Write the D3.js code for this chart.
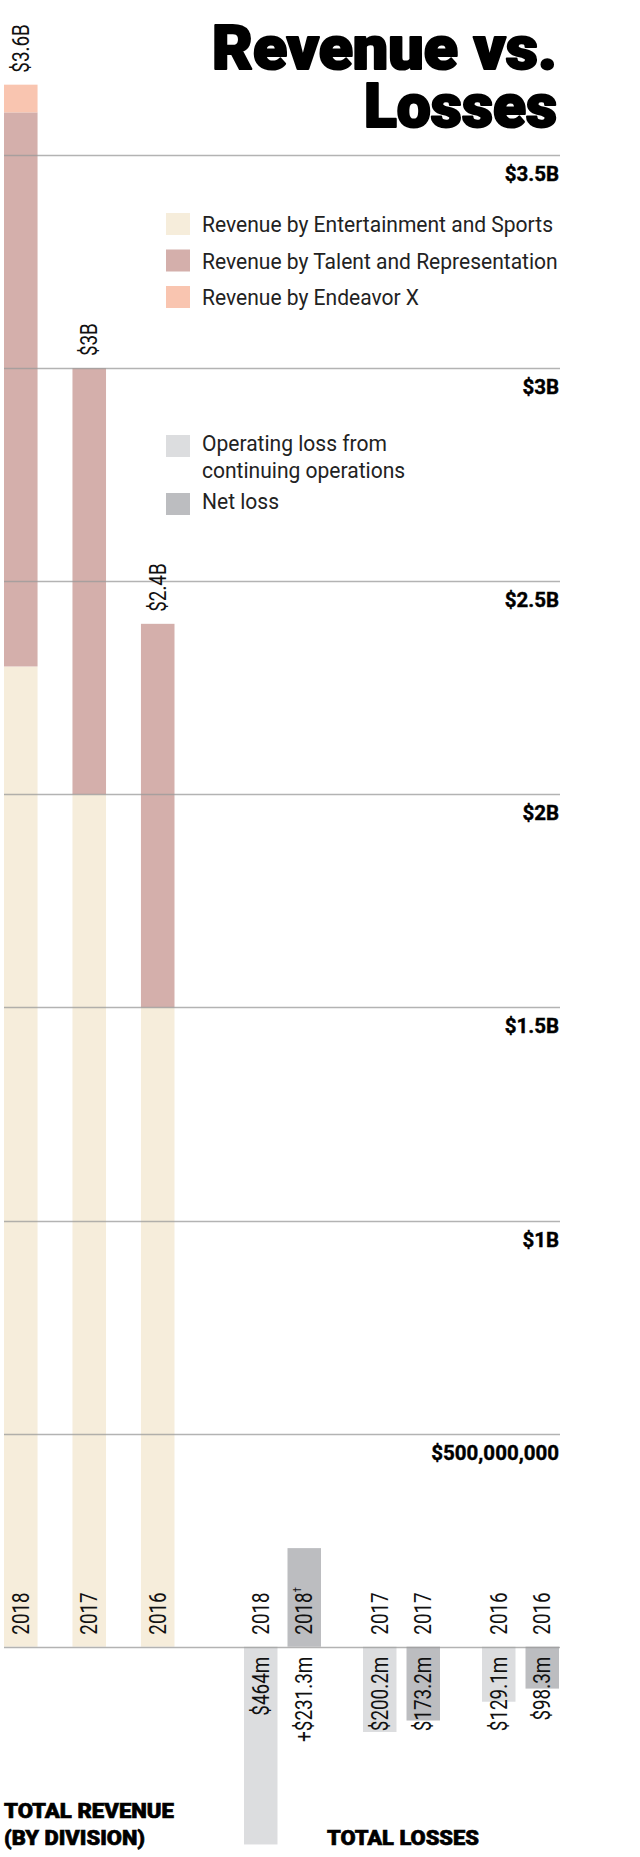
<!DOCTYPE html>
<html>
<head>
<meta charset="utf-8">
<script src="https://cdn.jsdelivr.net/npm/d3@7"></script>
<style>
  html, body { margin: 0; padding: 0; background: #fff; }
  svg { display: block; }
  text { font-family: Roboto, "Liberation Sans", "DejaVu Sans", sans-serif; fill: #111; }
</style>
</head>
<body>
<svg id="chart" width="640" height="1857"></svg>
<script>
// ---------- DATA ----------
const years = ["2018", "2017", "2016"];
const revEntertainmentSports = [2.30, 2.00, 1.50];   // $B
const revTalentRepresentation = [1.30, 1.00, 0.90];  // $B
const revEndeavorX = [0.065, 0, 0];                  // $B
const revTotalLabels = ["$3.6B", "$3B", "$2.4B"];

const lossYears = ["2018", "2017", "2016"];
const operatingLoss = [-464.0, -200.2, -129.1];      // $M (negative = loss)
const netLoss = [231.3, -173.2, -98.3];              // $M (2018 is positive)
const operatingLabels = ["$464m", "$200.2m", "$129.1m"];
const netLabels = ["+$231.3m", "$173.2m", "$98.3m"];
const netYearMarks = ["\u2020", "", ""];

const tickValues = [0.5, 1, 1.5, 2, 2.5, 3, 3.5];
const tickLabels = ["$500,000,000", "$1B", "$1.5B", "$2B", "$2.5B", "$3B", "$3.5B"];

const revenueSeries = ["Revenue by Entertainment and Sports", "Revenue by Talent and Representation", "Revenue by Endeavor X"];
const lossSeries = [["Operating loss from", "continuing operations"], ["Net loss"]];
const titleLines = ["Revenue vs.", "Losses"];
const sectionTitles = [["TOTAL REVENUE", "(BY DIVISION)"], ["TOTAL LOSSES"]];

// ---------- STYLE ----------
const colors = {
  es: "#f6eddb",
  tr: "#d4afab",
  ex: "#f9c5b0",
  op: "#dcdddf",
  net: "#bcbdc0",
  grid: "#9a9a9a"
};

const svg = d3.select("#chart");
const W = 640, H = 1857;
svg.append("rect").attr("width", W).attr("height", H).attr("fill", "#fff");

const y = d3.scaleLinear().domain([0, 3.5]).range([1646.7, 155]);
const gridX0 = 4, gridX1 = 560;

const xRev = d3.scaleBand().domain(years).range([4, 174.5]).paddingInner(0.51).paddingOuter(0);
const xLossGroup = d3.scaleBand().domain(lossYears).range([244, 559]).paddingInner(0.353).paddingOuter(0);
const xLossInner = d3.scaleBand().domain(["op", "net"]).range([0, xLossGroup.bandwidth()]).paddingInner(0.23).paddingOuter(0);

// ---------- REVENUE STACK ----------
const revRows = years.map((yr, i) => ({
  year: yr,
  es: revEntertainmentSports[i],
  tr: revTalentRepresentation[i],
  ex: revEndeavorX[i]
}));
const stacked = d3.stack().keys(["es", "tr", "ex"])(revRows);

const gBars = svg.append("g");
stacked.forEach(layer => {
  gBars.selectAll(null)
    .data(layer.filter(d => d[1] - d[0] > 0))
    .enter().append("rect")
    .attr("x", d => xRev(d.data.year))
    .attr("width", xRev.bandwidth())
    .attr("y", d => y(d[1]))
    .attr("height", d => y(d[0]) - y(d[1]))
    .attr("fill", colors[layer.key]);
});

// ---------- LOSS BARS ----------
const lossRows = [];
lossYears.forEach((yr, i) => {
  lossRows.push({ year: yr, type: "op", v: operatingLoss[i] / 1000, label: operatingLabels[i], mark: "" });
  lossRows.push({ year: yr, type: "net", v: netLoss[i] / 1000, label: netLabels[i], mark: netYearMarks[i] });
});
const lx = d => xLossGroup(d.year) + xLossInner(d.type);
gBars.selectAll(null).data(lossRows).enter().append("rect")
  .attr("x", lx)
  .attr("width", xLossInner.bandwidth())
  .attr("y", d => d.v >= 0 ? y(d.v) : y(0))
  .attr("height", d => Math.abs(y(d.v) - y(0)))
  .attr("fill", d => d.type === "op" ? colors.op : colors.net);

// ---------- GRID ----------
const gGrid = svg.append("g");
gGrid.selectAll("line").data([0].concat(tickValues)).enter().append("line")
  .attr("x1", gridX0).attr("x2", gridX1)
  .attr("y1", d => Math.round(y(d)) + 0.5).attr("y2", d => Math.round(y(d)) + 0.5)
  .attr("stroke", colors.grid).attr("stroke-opacity", 0.75).attr("stroke-width", 1.5);

gGrid.selectAll("text").data(tickValues).enter().append("text")
  .attr("x", 559).attr("y", d => y(d) + 26)
  .attr("text-anchor", "end")
  .attr("font-size", 20.5).attr("font-weight", 700)
  .style("fill", "#000").style("stroke", "#000").style("stroke-width", 0.4)
  .text((d, i) => tickLabels[i]);

function condense(sel, factor) {
  sel.each(function () {
    const len = this.getComputedTextLength();
    d3.select(this).attr("textLength", len * factor).attr("lengthAdjust", "spacingAndGlyphs");
  });
}
const LABEL_FS = 23, LABEL_K = 0.82;

// ---------- REVENUE LABELS ----------
const gLab = svg.append("g");
const revTotals = revRows.map(r => r.es + r.tr + r.ex);
const revTop = gLab.selectAll(null).data(years).enter().append("text")
  .attr("transform", (d, i) => `translate(${xRev(d) + xRev.bandwidth() / 2 + 8},${y(revTotals[i]) - 12}) rotate(-90)`)
  .attr("font-size", LABEL_FS)
  .text((d, i) => revTotalLabels[i]);
condense(revTop, LABEL_K);

const revYear = gLab.selectAll(null).data(years).enter().append("text")
  .attr("transform", d => `translate(${xRev(d) + xRev.bandwidth() / 2 + 8},${y(0) - 12}) rotate(-90)`)
  .attr("font-size", LABEL_FS)
  .text(d => d);
condense(revYear, LABEL_K);

// ---------- LOSS LABELS ----------
const lossYearText = gLab.selectAll(null).data(lossRows).enter().append("text")
  .attr("transform", d => `translate(${lx(d) + xLossInner.bandwidth() / 2 + 8},${y(0) - 12}) rotate(-90)`)
  .attr("font-size", LABEL_FS);
lossYearText.append("tspan").text(d => d.year);
lossYearText.filter(d => d.mark).append("tspan")
  .attr("font-size", 11).attr("dy", -11).text(d => d.mark);
condense(lossYearText, LABEL_K);

const lossVal = gLab.selectAll(null).data(lossRows).enter().append("text")
  .attr("transform", d => `translate(${lx(d) + xLossInner.bandwidth() / 2 + 8},${y(0) + 10}) rotate(-90)`)
  .attr("text-anchor", "end")
  .attr("font-size", LABEL_FS)
  .text(d => d.label);
condense(lossVal, LABEL_K);

// ---------- TITLE (one text element, two lines) ----------
const titleWidths = [345, 193];
const titleText = svg.append("text")
  .attr("text-anchor", "end")
  .attr("font-size", 62).attr("font-weight", 900)
  .style("fill", "#000").style("stroke", "#000").style("stroke-width", 2.2).style("stroke-linejoin", "round");
titleText.selectAll("tspan").data(titleLines).enter().append("tspan")
  .attr("x", 557).attr("y", (d, i) => 69 + i * 58)
  .attr("textLength", (d, i) => titleWidths[i]).attr("lengthAdjust", "spacingAndGlyphs")
  .text(d => d);

// ---------- LEGENDS ----------
const legend = svg.append("g");
const revColors = [colors.es, colors.tr, colors.ex];
const legRev = legend.selectAll(null).data(revenueSeries).enter().append("g")
  .attr("transform", (d, i) => `translate(166,${213 + i * 36.5})`);
legRev.append("rect").attr("width", 24).attr("height", 22).attr("fill", (d, i) => revColors[i]);
const legRevText = legRev.append("text").attr("x", 36).attr("y", 19).attr("font-size", 21.5)
  .style("fill", "#222").text(d => d);

const natural = legRevText.nodes()[0].getComputedTextLength();
const legK = 351 / natural;
condense(legRevText, legK);

const lossColors = [colors.op, colors.net];
const lossLegTop = [435, 493];
const legLoss = legend.selectAll(null).data(lossSeries).enter().append("g")
  .attr("transform", (d, i) => `translate(166,${lossLegTop[i]})`);
legLoss.append("rect").attr("width", 24).attr("height", 22).attr("fill", (d, i) => lossColors[i]);
const legLossText = legLoss.selectAll("text").data(d => d).enter().append("text")
  .attr("x", 36).attr("y", (d, j) => 16 + j * 27).attr("font-size", 21.5)
  .style("fill", "#222").text(d => d);
condense(legLossText, legK);

// ---------- SECTION TITLES ----------
const sectionX = [4, 327];
const sectionWidths = [[170, 141], [152]];
const foot = svg.append("g");
sectionTitles.forEach((lines, s) => {
  const t = foot.append("text")
    .attr("font-size", 19.5).attr("font-weight", 900)
    .style("fill", "#000").style("stroke", "#000").style("stroke-width", 0.6);
  const baseY = 1845 - (lines.length - 1) * 27;
  t.selectAll("tspan").data(lines).enter().append("tspan")
    .attr("x", sectionX[s]).attr("y", (d, i) => baseY + i * 27)
    .attr("textLength", (d, i) => sectionWidths[s][i]).attr("lengthAdjust", "spacingAndGlyphs")
    .text(d => d);
});
</script>
</body>
</html>
